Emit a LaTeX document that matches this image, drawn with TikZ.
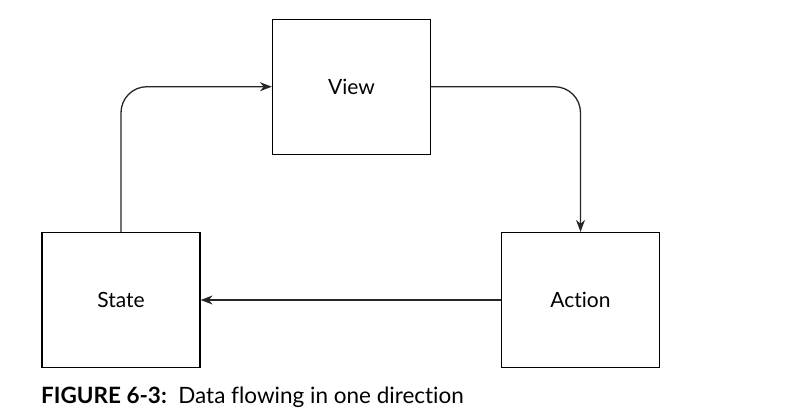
\documentclass[tikz,border=0pt]{standalone}
\usepackage{fontspec}
\setmainfont{Lato}[Ligatures={NoCommon}]
\usetikzlibrary{arrows.meta}
\begin{document}
\begin{tikzpicture}[x=1pt,y=-1pt,
  box/.style={draw=black, line width=1.2pt, minimum width=158pt, minimum height=135pt, inner sep=0pt, font=\fontsize{21}{24}\selectfont},
  flow/.style={draw=black!85, line width=1.3pt, -{Stealth[length=12pt,width=9pt]}, rounded corners=26pt}]
\useasboundingbox (0,0) rectangle (795,418);
\node[box] (view) at (351.5,86.7) {View};
\node[box] (state) at (121,300) {State};
\node[box] (action) at (580.5,300) {Ac\kern0pt tion};
\draw[flow] (state.north) |- (view.west);
\draw[flow] (view.east) -| (action.north);
\draw[flow] (action.west) -- (state.east);
\node[anchor=west, inner sep=0pt, font=\fontsize{22.5}{26}\selectfont] (cap) at (41,397.5) {\textbf{FIGURE 6-3:}\ \ Data flowing in one direc\kern0pt tion};
\end{tikzpicture}
\end{document}
